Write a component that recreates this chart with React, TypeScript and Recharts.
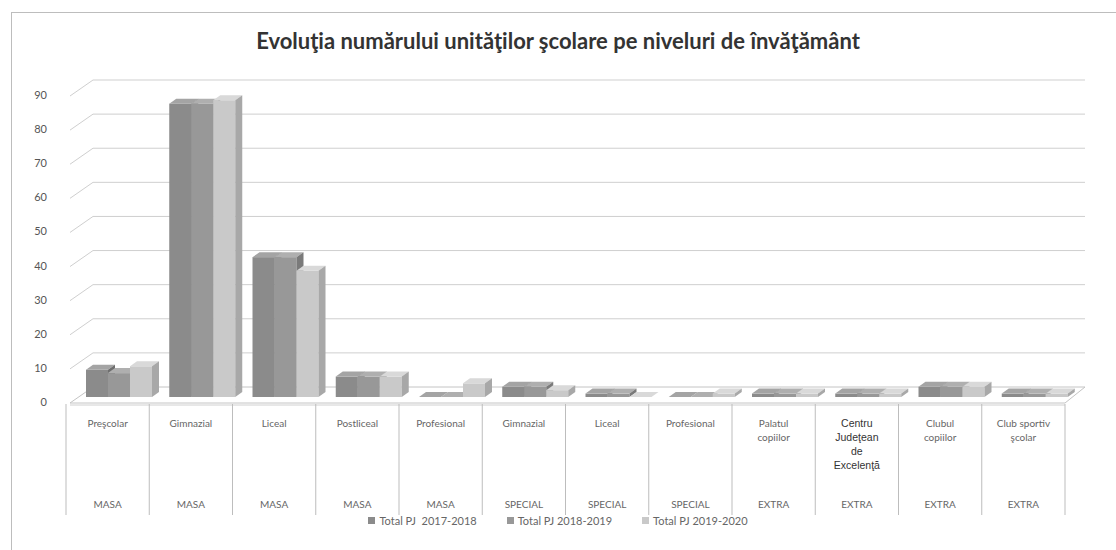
import React from "react";
import { Bar, BarChart, CartesianGrid, XAxis, YAxis } from "recharts";

// date (numar unitati scolare)
const levels = [
  "Preşcolar",
  "Gimnazial",
  "Liceal",
  "Postliceal",
  "Profesional",
  "Gimnazial",
  "Liceal",
  "Profesional",
  "Palatul\ncopiilor",
  "Centru\nJudeţean\nde\nExcelenţă",
  "Clubul\ncopiilor",
  "Club sportiv\nşcolar",
];
const groups = [
  "MASA",
  "MASA",
  "MASA",
  "MASA",
  "MASA",
  "SPECIAL",
  "SPECIAL",
  "SPECIAL",
  "EXTRA",
  "EXTRA",
  "EXTRA",
  "EXTRA",
];
const total2017 = [8, 86, 41, 6, 0, 3, 1, 0, 1, 1, 3, 1];
const total2018 = [7, 86, 41, 6, 0, 3, 1, 0, 1, 1, 3, 1];
const total2019 = [9, 87, 37, 6, 4, 2, 0, 1, 1, 1, 3, 1];
const seriesNames = ["Total PJ  2017-2018", "Total PJ 2018-2019", "Total PJ 2019-2020"];
const yTicks = [0, 10, 20, 30, 40, 50, 60, 70, 80, 90];

const data = levels.map((level, i) => ({
  id: i,
  level,
  group: groups[i],
  s1: total2017[i],
  s2: total2018[i],
  s3: total2019[i],
}));

const W = 1116;
const H = 550;
const LEFT = 66;
const RIGHT = 51;
const TOP = 90;
const BOTTOM = 153;
const PLOT_BOTTOM = H - BOTTOM;
const BAND = (W - LEFT - RIGHT) / levels.length;
const DX = 7;
const DY = 5;
const SHIFT = 11;
const FONT = "Lato, 'Open Sans', sans-serif";

const colors = [
  { front: "#8b8b8b", top: "#a4a4a4", side: "#6e6e6e" },
  { front: "#989898", top: "#afafaf", side: "#7a7a7a" },
  { front: "#c9c9c9", top: "#d9d9d9", side: "#a8a8a8" },
];

function makeShape(c: { front: string; top: string; side: string }) {
  return (props: any) => {
    const { y, width, height } = props;
    const x = props.x + SHIFT;
    const h = Math.max(height, 0);
    return (
      <g>
        <rect x={x} y={y} width={width} height={h} fill={c.front} />
        <polygon
          points={`${x},${y} ${x + DX},${y - DY} ${x + width + DX},${y - DY} ${x + width},${y}`}
          fill={c.top}
        />
        <polygon
          points={`${x + width},${y} ${x + width + DX},${y - DY} ${x + width + DX},${y + h - DY} ${x + width},${y + h}`}
          fill={c.side}
        />
      </g>
    );
  };
}

function GridLine(props: any) {
  const { x1, x2, y1 } = props;
  if (Math.abs(y1 - PLOT_BOTTOM) < 1) {
    // podeaua 3D
    return (
      <g>
        <polygon
          points={`${x1 + 4},${y1 + 6} ${x2},${y1 + 6} ${x2 + 20},${y1 - 10} ${x1 + 27},${y1 - 10}`}
          fill="#fff"
          stroke="#c4c4c4"
        />
        <line x1={x1 + 4} y1={y1 + 8} x2={x2} y2={y1 + 8} stroke="#d0d0d0" />
      </g>
    );
  }
  return (
    <path
      d={`M${x1 + 4},${y1 + 6} L${x1 + 27},${y1 - 10} L${x2 + 20},${y1 - 10}`}
      fill="none"
      stroke="#cfcfcf"
    />
  );
}

function YTick(props: any) {
  const { y, payload } = props;
  return (
    <text
      x={47}
      y={y + 9}
      textAnchor="end"
      fontFamily={FONT}
      fontSize={11}
      fill="#555"
    >
      {payload.value}
    </text>
  );
}

function XTick(props: any) {
  const { x, index } = props;
  const lines = levels[index].split("\n");
  const isCentru = index === 9;
  const left = x - BAND / 2;
  const right = x + BAND / 2;
  return (
    <g>
      <line x1={left} y1={PLOT_BOTTOM + 7} x2={left} y2={PLOT_BOTTOM + 118} stroke="#bdbdbd" />
      {index === levels.length - 1 && (
        <line x1={right} y1={PLOT_BOTTOM + 7} x2={right} y2={PLOT_BOTTOM + 118} stroke="#bdbdbd" />
      )}
      {lines.map((t, i) => (
        <text
          key={i}
          x={x}
          y={PLOT_BOTTOM + 30 + i * 14}
          textAnchor="middle"
          fontFamily={isCentru ? "'Liberation Sans', Arial, sans-serif" : FONT}
          fontSize={isCentru ? 10.5 : 10}
          fill={isCentru ? "#333" : "#666"}
        >
          {t}
        </text>
      ))}
      <text
        x={x}
        y={PLOT_BOTTOM + 111}
        textAnchor="middle"
        fontFamily={FONT}
        fontSize={10}
        fill="#666"
      >
        {groups[index]}
      </text>
    </g>
  );
}

export default function App() {
  return (
    <div
      style={{
        position: "absolute",
        left: 0,
        top: 0,
        width: W,
        height: H,
        overflow: "hidden",
        background: "#fff",
      }}
    >
      <div
        style={{
          position: "absolute",
          left: 11,
          top: 12,
          width: W,
          height: H,
          border: "1px solid #bdbdbd",
        }}
      />
      <div
        style={{
          position: "absolute",
          top: 27,
          left: 0,
          width: W,
          textAlign: "center",
          fontFamily: FONT,
          fontWeight: 700,
          fontSize: 22,
          color: "#333",
        }}
      >
        Evoluţia numărului unităţilor şcolare pe niveluri de învăţământ
      </div>
      <BarChart
        width={W}
        height={H}
        data={data}
        margin={{ top: TOP, right: RIGHT, bottom: 0, left: 0 }}
        barGap={0}
        barSize={22}
        style={{ position: "absolute", left: 0, top: 0 }}
      >
        <CartesianGrid vertical={false} horizontal={(p: any) => <GridLine key={p.key} {...p} />} />
        <XAxis
          dataKey="id"
          height={BOTTOM}
          axisLine={false}
          tickLine={false}
          interval={0}
          tick={(p: any) => <XTick {...p} />}
        />
        <YAxis
          width={LEFT}
          domain={[0, 90]}
          ticks={yTicks}
          axisLine={false}
          tickLine={false}
          tick={(p: any) => <YTick {...p} />}
        />
        <Bar dataKey="s1" name={seriesNames[0]} isAnimationActive={false} shape={makeShape(colors[0])} />
        <Bar dataKey="s2" name={seriesNames[1]} isAnimationActive={false} shape={makeShape(colors[1])} />
        <Bar dataKey="s3" name={seriesNames[2]} isAnimationActive={false} shape={makeShape(colors[2])} />
      </BarChart>
      <div
        style={{
          position: "absolute",
          top: 514,
          left: 0,
          width: W,
          display: "flex",
          justifyContent: "center",
          gap: 30,
          fontFamily: FONT,
          fontSize: 11,
          color: "#666",
        }}
      >
        {seriesNames.map((n, i) => (
          <span key={n} style={{ display: "flex", alignItems: "center", whiteSpace: "pre" }}>
            <span
              style={{
                display: "inline-block",
                width: 7,
                height: 7,
                background: colors[i].front,
                marginRight: 4,
              }}
            />
            {n}
          </span>
        ))}
      </div>
    </div>
  );
}
